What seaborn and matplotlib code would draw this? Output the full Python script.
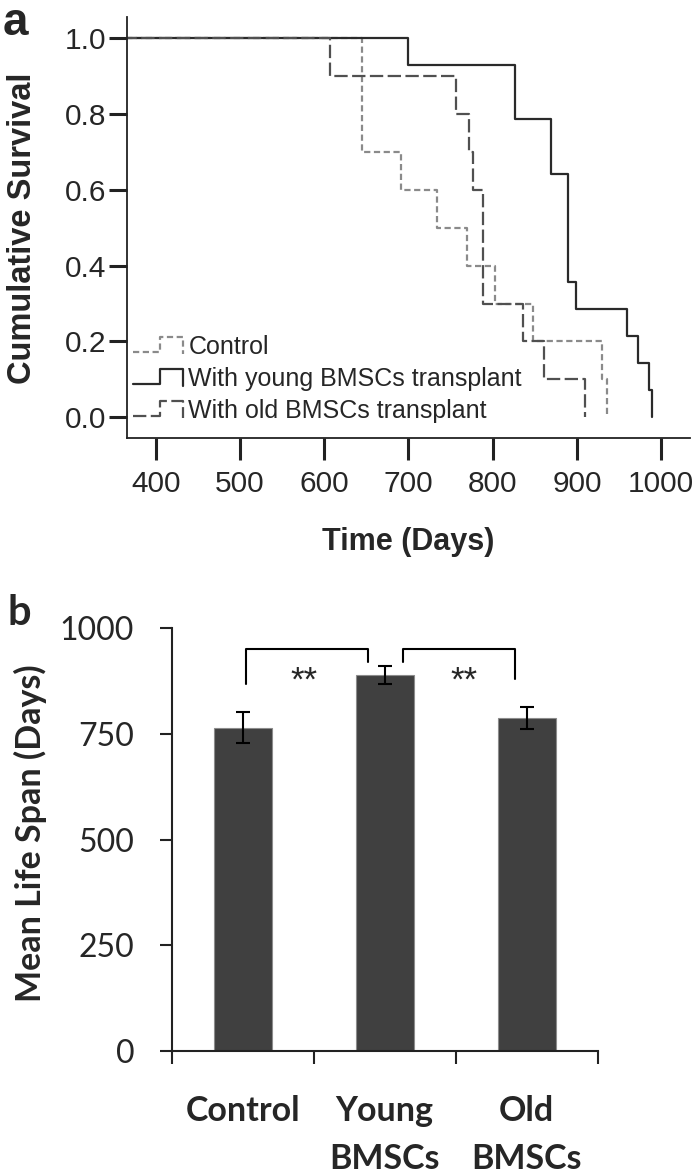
import matplotlib
matplotlib.use("Agg")
import matplotlib.pyplot as plt
import seaborn as sns
from matplotlib.legend_handler import HandlerBase
from matplotlib.lines import Line2D

# === DONNÉES ===
# (a) Kaplan-Meier : jours de décès et survie cumulée
control_days = [0, 645, 691, 734, 769, 803, 848, 930, 936]
control_surv = [1.0, 0.7, 0.6, 0.5, 0.4, 0.3, 0.2, 0.1, 0.0]
young_days = [0, 699, 826, 869, 890, 899, 960, 973, 986, 989]
young_surv = [1.0, 0.929, 0.786, 0.643, 0.357, 0.286, 0.214, 0.143, 0.071, 0.0]
old_days = [0, 607, 757, 772, 777, 788, 836, 861, 910]
old_surv = [1.0, 0.9, 0.8, 0.7, 0.6, 0.3, 0.2, 0.1, 0.0]
curve_labels = ["Control", "With young BMSCs transplant", "With old BMSCs transplant"]
time_ticks = [400, 500, 600, 700, 800, 900, 1000]
surv_ticks = [0.0, 0.2, 0.4, 0.6, 0.8, 1.0]

# (b) durée de vie moyenne
groups = ["Control", "Young\nBMSCs", "Old\nBMSCs"]
mean_span = [765, 890, 788]
sem_span = [37, 21, 26]
span_ticks = [0, 250, 500, 750, 1000]
# crochets de significativité : (x gauche, x droit, bas gauche, bas droit)
brackets = [(0.02, 0.88, 869, 920), (1.13, 1.92, 920, 880)]
bracket_top = 950
stars_x = [0.43, 1.56]


class StepHandler(HandlerBase):
    # petite icône en escalier comme dans la légende d'origine
    def create_artists(self, legend, orig_handle, xdescent, ydescent,
                       width, height, fontsize, trans):
        x0 = -xdescent
        xs = [x0, x0 + 0.55 * width, x0 + 0.55 * width, x0 + width, x0 + width]
        ys = [0.1 * height, 0.1 * height, 0.95 * height, 0.95 * height, 0.0]
        line = Line2D(xs, ys)
        line.update_from(orig_handle)
        line.set_transform(trans)
        return [line]


sns.set_style("ticks")
plt.rcParams['font.family'] = ['Liberation Sans', 'DejaVu Sans']
plt.rcParams['axes.edgecolor'] = '#222222'

W, H = 697, 1173
fig = plt.figure(figsize=(W / 100, H / 100), dpi=100)

# === (a) SURVIE ===
ax1 = fig.add_axes([127.3 / W, 1 - 438.3 / H, 562.4 / W, 421.3 / H])
styles = [("#8a8a8a", (0, (2.8, 1.6))), ("#2a2a2a", "-"), ("#505050", (0, (6, 2)))]
series = [(control_days, control_surv), (young_days, young_surv), (old_days, old_surv)]
handles = []
for (d, s), (col, ls), lab in zip(series, styles, curve_labels):
    sns.lineplot(x=d, y=s, ax=ax1, drawstyle='steps-post', color=col, linestyle=ls,
                 linewidth=1.6, estimator=None, errorbar=None)
    handles.append(ax1.lines[-1])

ax1.set_xlim(366, 1034)
ax1.set_ylim(-0.0554, 1.056)
ax1.set_xticks(time_ticks)
ax1.set_xticklabels([str(t) for t in time_ticks])
ax1.set_yticks(surv_ticks)
ax1.set_yticklabels([f"{v:.1f}" for v in surv_ticks])
ax1.tick_params(axis='x', length=16, width=2.2, pad=7, labelsize=21.5, color='#222222')
ax1.tick_params(axis='y', length=13, width=2.2, pad=2, labelsize=21.5, color='#222222')
for sp in ['top', 'right']:
    ax1.spines[sp].set_visible(False)
for sp in ['left', 'bottom']:
    ax1.spines[sp].set_linewidth(1.3)

ax1.legend(handles, curve_labels, handler_map={h: StepHandler() for h in handles},
           loc='upper left', bbox_to_anchor=(0.01, 0.245), frameon=False,
           fontsize=18, handlelength=2.0, handletextpad=0.22, labelspacing=0.32,
           borderpad=0, borderaxespad=0)

fig.text(408 / W, 1 - 542 / H, "Time (Days)", ha='center', va='center',
         fontsize=22, fontweight='bold')
fig.text(22.5 / W, 1 - 228 / H, "Cumulative Survival", ha='center', va='center',
         rotation=90, fontsize=23.5, fontweight='bold')
fig.text(3 / W, 0.999, "a", ha='left', va='top', fontsize=33, fontweight='bold')

# === (b) DURÉE DE VIE ===
ax2 = fig.add_axes([171.7 / W, 1 - 1051 / H, 426 / W, 422.7 / H])
sns.barplot(x=groups, y=mean_span, ax=ax2, color='#404040', saturation=1,
            width=0.41, edgecolor='#8c8c8c', linewidth=0.8, errorbar=None)
ax2.errorbar(range(len(groups)), mean_span, yerr=sem_span, fmt='none',
             ecolor='black', elinewidth=1.5, capsize=5, capthick=1.5)

for (xl, xr, yl, yr), sx in zip(brackets, stars_x):
    ax2.plot([xl, xl, xr, xr], [yl, bracket_top, bracket_top, yr], color='black', lw=1.5)
    ax2.text(sx, 875, "**", ha='center', va='center', fontsize=25)

ax2.set_xlim(-0.5, 2.5)
ax2.set_ylim(0, 1000)
ax2.set_yticks(span_ticks)
ax2.set_yticklabels([str(v) for v in span_ticks])
ax2.set_xticks([-0.5, 0.5, 1.5, 2.5])
ax2.set_xticklabels([])
ax2.set_xticks(range(len(groups)), labels=groups, minor=True)
for lbl in ax2.get_xticklabels(minor=True):
    lbl.set_fontfamily('Lato')
    lbl.set_fontweight('bold')
    lbl.set_fontsize(24.5)
    lbl.set_linespacing(1.6)
ax2.tick_params(axis='x', which='major', length=9, width=1.5, color='#222222')
ax2.tick_params(axis='x', which='minor', length=0, pad=32)
ax2.tick_params(axis='y', length=9, width=1.5, pad=18, labelsize=23,
                labelfontfamily='Lato', color='#222222')
ax2.set_xlabel("")
ax2.set_ylabel("")
for sp in ['top', 'right']:
    ax2.spines[sp].set_visible(False)
for sp in ['left', 'bottom']:
    ax2.spines[sp].set_linewidth(1.5)

fig.text(30 / W, 1 - 833 / H, "Mean Life Span (Days)", ha='center', va='center',
         rotation=90, fontsize=24.5, fontweight='bold', family='Lato')
fig.text(7 / W, 1 - 625 / H, "b", ha='left', va='baseline', fontsize=30,
         fontweight='bold', family='Lato')

fig.savefig("out.png", dpi=100)
